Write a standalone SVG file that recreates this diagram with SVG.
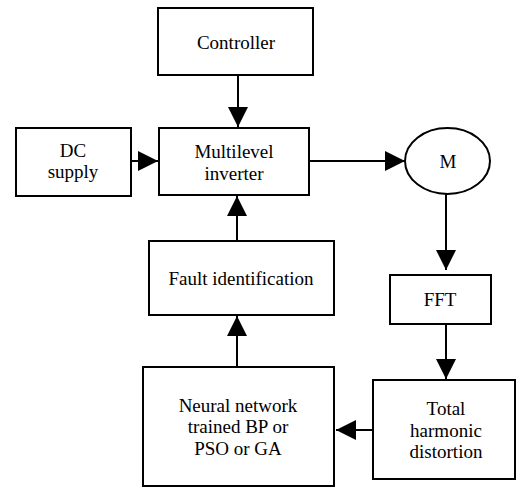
<svg xmlns="http://www.w3.org/2000/svg" width="516" height="487" viewBox="0 0 516 487">
<defs>
<style>
.box{fill:#fff;stroke:#000;stroke-width:2}
.t{font-family:"Liberation Serif","Times New Roman",serif;font-size:19px;fill:#000;text-anchor:middle}
.c{stroke:#000;stroke-width:2;fill:none}
</style>
<marker id="ah" viewBox="0 0 20 20" refX="20" refY="10" markerWidth="20" markerHeight="20" markerUnits="userSpaceOnUse" orient="auto">
<path d="M0,0 L20,10 L0,20 Z" fill="#000"/>
</marker>
</defs>
<rect width="516" height="487" fill="#fff"/>
<g id="controller"><rect class="box" x="158" y="8" width="155" height="67"/><text class="t" x="236" y="49">Controller</text></g>
<g id="dc"><rect class="box" x="16" y="128" width="115" height="68"/><text class="t" x="73" y="157">DC</text><text class="t" x="73" y="178">supply</text></g>
<g id="inverter"><rect class="box" x="159" y="128" width="150" height="67"/><text class="t" x="234" y="158">Multilevel</text><text class="t" x="234" y="180">inverter</text></g>
<g id="motor"><ellipse class="box" cx="447.5" cy="161" rx="42.5" ry="33"/><text class="t" x="448" y="168">M</text></g>
<g id="fault"><rect class="box" x="149" y="241" width="185" height="74"/><text class="t" x="241" y="285">Fault identification</text></g>
<g id="fft"><rect class="box" x="390" y="275" width="101" height="49"/><text class="t" x="440" y="306">FFT</text></g>
<g id="nn"><rect class="box" x="143" y="367" width="191" height="119"/><text class="t" x="238" y="412">Neural network</text><text class="t" x="238" y="433">trained BP or</text><text class="t" x="238" y="455">PSO or GA</text></g>
<g id="thd"><rect class="box" x="373" y="380" width="142" height="99"/><text class="t" x="446" y="415">Total</text><text class="t" x="446" y="437">harmonic</text><text class="t" x="446" y="458">distortion</text></g>
<g id="connectors">
<line class="c" x1="238" y1="75" x2="238" y2="127" marker-end="url(#ah)"/>
<line class="c" x1="131" y1="161" x2="158" y2="161" marker-end="url(#ah)"/>
<line class="c" x1="309" y1="161" x2="405" y2="161" marker-end="url(#ah)"/>
<line class="c" x1="446" y1="194" x2="446" y2="270" marker-end="url(#ah)"/>
<line class="c" x1="446" y1="324" x2="446" y2="379" marker-end="url(#ah)"/>
<line class="c" x1="373" y1="430" x2="336" y2="430" marker-end="url(#ah)"/>
<line class="c" x1="237" y1="367" x2="237" y2="316" marker-end="url(#ah)"/>
<line class="c" x1="237" y1="241" x2="237" y2="196" marker-end="url(#ah)"/>
</g>
</svg>
